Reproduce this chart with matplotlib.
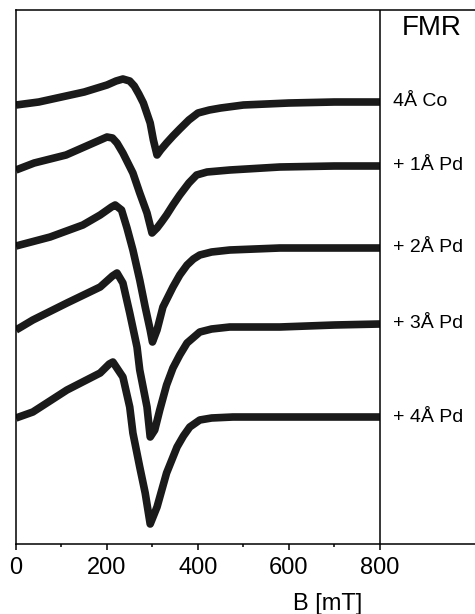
import matplotlib
matplotlib.use("Agg")
import matplotlib.pyplot as plt
import numpy as np

plt.rcParams['font.family'] = ['Liberation Sans', 'DejaVu Sans']

# field values (mT) and signal (a.u., positive up)
b_co4 = [0, 50, 100, 150, 200, 220, 235, 250, 260, 270, 280, 295, 302, 310, 318, 331, 345, 360, 380, 400, 425, 450, 500, 600, 700, 800]
s_co4 = [-3, 0, 5, 10, 17, 21, 23, 21, 16, 8, -1, -21, -38, -53, -48, -41, -34, -27, -18, -11, -8, -6, -3, -1, 0, 0]

b_pd1 = [0, 40, 110, 185, 200, 212, 222, 235, 257, 272, 288, 299, 310, 320, 331, 345, 360, 380, 397, 420, 470, 580, 700, 800]
s_pd1 = [-4, 3, 11, 26, 29, 28, 23, 13, -7, -27, -47, -67, -62, -56, -49, -39, -29, -17, -9, -6, -4, -1, 0, 0]

b_pd2 = [0, 75, 147, 185, 210, 218, 232, 244, 257, 272, 284, 295, 300, 310, 323, 345, 360, 376, 390, 404, 430, 470, 580, 700, 800]
s_pd2 = [2, 11, 23, 33, 41, 43, 38, 20, -2, -32, -59, -82, -94, -82, -59, -39, -27, -17, -11, -7, -4, -2, 0, 0, 0]

b_pd3 = [0, 37, 112, 185, 212, 222, 235, 250, 266, 272, 288, 295, 305, 316, 331, 345, 360, 376, 404, 430, 470, 580, 700, 800]
s_pd3 = [-6, 4, 21, 37, 48, 51, 41, 11, -23, -46, -83, -113, -106, -86, -61, -44, -31, -19, -8, -5, -3, -3, -1, 0]

b_pd4 = [0, 37, 112, 185, 205, 213, 235, 250, 257, 272, 284, 295, 310, 331, 354, 368, 382, 404, 430, 477, 624, 800]
s_pd4 = [-1, 5, 27, 44, 53, 55, 40, 10, -16, -50, -76, -107, -90, -56, -30, -19, -10, -3, -1, 0, 0, 0]

labels = ['4Å Co', '+ 1Å Pd', '+ 2Å Pd', '+ 3Å Pd', '+ 4Å Pd']
offsets = [442, 378, 296, 220, 127]

fig = plt.figure(figsize=(4.75, 6.14), dpi=100)
ax = fig.add_axes([16 / 475, 70 / 614, 1 - 16 / 475, 534 / 614])

curves = [(b_co4, s_co4), (b_pd1, s_pd1), (b_pd2, s_pd2), (b_pd3, s_pd3), (b_pd4, s_pd4)]
for (b, s), off, lab in zip(curves, offsets, labels):
    ax.plot(b, np.array(s) + off, color='#1a1a1a', lw=5.5,
            solid_capstyle='butt', solid_joinstyle='round')
    ax.text(828, off, lab, fontsize=14, ha='left', va='center', clip_on=False)

ax.text(848, 516, 'FMR', fontsize=20, ha='left', va='center')

ax.axvline(800, color='black', lw=1.1)
ax.set_xlim(0, 1009)
ax.set_ylim(0, 534)

ax.spines['right'].set_visible(False)
for sp in ['left', 'top', 'bottom']:
    ax.spines[sp].set_linewidth(1.1)

ax.set_xticks([0, 200, 400, 600, 800])
ax.set_xticks([100, 300, 500, 700], minor=True)
ax.set_yticks([])
ax.tick_params(axis='x', which='major', direction='out', length=4, width=1.1,
               labelsize=17, pad=5)
ax.tick_params(axis='x', which='minor', direction='out', length=2.5, width=1.1)

fig.text(328 / 475, 1 - 604 / 614, 'B [mT]', fontsize=17, ha='center', va='center')

fig.savefig('out.png', dpi=100)
